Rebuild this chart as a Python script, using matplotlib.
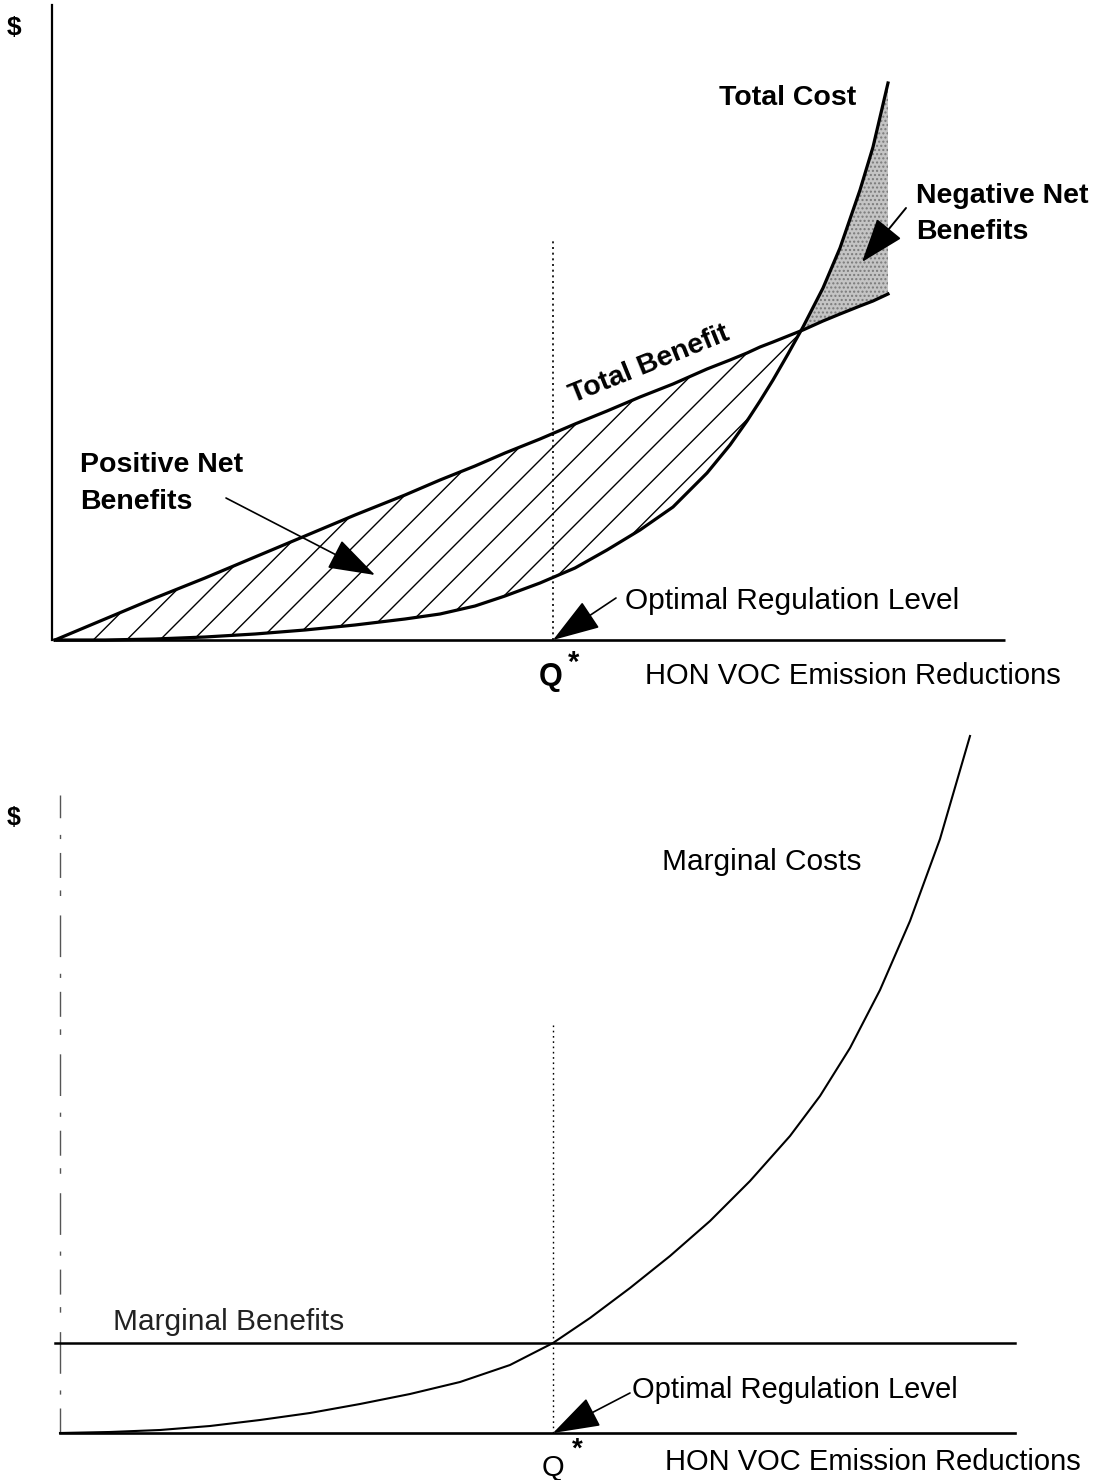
import matplotlib
matplotlib.use("Agg")
import matplotlib.pyplot as plt
import numpy as np

plt.rcParams['font.family'] = ['Liberation Sans', 'DejaVu Sans']
plt.rcParams['hatch.linewidth'] = 1.0

# ---------------- data ----------------
# Upper panel: total cost / total benefit versus emission reductions
q_top = [0, 0.5, 1.0, 1.5, 2.0, 2.5, 3.0, 3.5, 3.85, 4.2, 4.5, 4.85, 5.2,
         5.52, 5.85, 6.18, 6.52, 6.75, 6.92, 7.05, 7.18, 7.33, 7.48, 7.68,
         7.85, 8.05, 8.18, 8.33]
total_cost = [0, 0.00, 0.01, 0.03, 0.06, 0.10, 0.15, 0.21, 0.26, 0.34, 0.44,
              0.57, 0.72, 0.90, 1.10, 1.33, 1.67, 1.95, 2.19, 2.39, 2.60, 2.86,
              3.13, 3.52, 3.92, 4.50, 4.93, 5.57]
total_benefit = [0, 0.21, 0.42, 0.62, 0.83, 1.04, 1.25, 1.45, 1.60, 1.74, 1.87,
                 2.01, 2.16, 2.29, 2.43, 2.56, 2.71, 2.80, 2.87, 2.93, 2.98,
                 3.04, 3.10, 3.19, 3.26, 3.34, 3.39, 3.46]
q_star_top = 4.98
top_x_axis = [0, 9.50]
top_y_axis = [0, 6.35]
top_qstar_guide = [0, 4.0]

# Lower panel: marginal cost / marginal benefit
q_bottom = [0, 0.5, 1.0, 1.5, 2.0, 2.5, 3.0, 3.5, 4.0, 4.5, 4.93, 5.3, 5.7,
            6.1, 6.5, 6.9, 7.3, 7.6, 7.9, 8.2, 8.5, 8.8, 9.1]
marginal_cost = [0, 0.01, 0.03, 0.07, 0.13, 0.20, 0.29, 0.39, 0.51, 0.68,
                 0.90, 1.15, 1.45, 1.77, 2.12, 2.52, 2.97, 3.37, 3.85, 4.43,
                 5.12, 5.94, 6.97]
q_mb = [-0.05, 9.55]
marginal_benefit = [0.90, 0.90]
q_star_bottom = 4.93
bot_x_axis = [0, 9.55]
bot_y_axis = [0, 6.38]
bot_qstar_guide = [0, 4.08]

# ---------------- figure ----------------
W, H = 1110, 1480
fig = plt.figure(figsize=(W / 100, H / 100), dpi=100)


def P(px, py):
    return (px / W, 1 - py / H)


# ---------- upper panel ----------
ax1 = fig.add_axes([0, 780 / H, 1, 700 / H])
ax1.set_xlim(-0.55, 10.55)
ax1.set_ylim(-0.60, 6.40)
ax1.axis('off')

qt = np.array(q_top)
tc = np.array(total_cost)
tb = np.array(total_benefit)

ax1.fill_between(qt, tc, tb, where=tb >= tc, interpolate=True,
                 facecolor='none', edgecolor='black', hatch='/', linewidth=0,
                 zorder=1)
ax1.fill_between(qt, tb, tc, where=tc >= tb, interpolate=True,
                 facecolor='#c4c4c4', edgecolor='#7a7a7a', hatch='....',
                 linewidth=0, zorder=1)

ax1.plot(top_x_axis, [0, 0], color='black', lw=1.9, zorder=3,
         solid_capstyle='butt')
ax1.plot([-0.03, -0.03], top_y_axis, color='black', lw=1.6, zorder=3)
ax1.plot(qt, tc, color='black', lw=2.3, zorder=4)
ax1.plot(qt, tb, color='black', lw=2.3, zorder=4)
ax1.plot([q_star_top, q_star_top], top_qstar_guide, color='black', lw=1.2,
         linestyle=(0, (1.2, 2.2)), zorder=2)

arrow_big = dict(arrowstyle='-|>,head_length=1.5,head_width=0.5',
                 mutation_scale=20, lw=1.2, color='black', shrinkA=0, shrinkB=0)

# Optimal regulation level arrow (top)
ax1.annotate('', xy=(q_star_top, 0), xytext=P(616, 598),
             textcoords='figure fraction', arrowprops=arrow_big, zorder=5)
# Positive net benefits arrow
ax1.annotate('', xy=P(375, 575), xycoords='figure fraction',
             xytext=P(226, 498), textcoords='figure fraction',
             arrowprops=arrow_big, zorder=5)
# Negative net benefits arrow
ax1.annotate('', xy=P(862, 262), xycoords='figure fraction',
             xytext=P(906, 208), textcoords='figure fraction',
             arrowprops=dict(arrowstyle='-|>,head_length=1.4,head_width=0.5',
                             mutation_scale=20, lw=1.4, color='black',
                             shrinkA=0, shrinkB=0), zorder=5)

fs = 20.5
fig.text(*P(14, 28), '$', fontsize=19, fontweight='bold', ha='center', va='center')
fig.text(*P(719, 98), 'Total Cost', fontsize=fs, fontweight='bold', ha='left', va='center')
fig.text(*P(916, 196), 'Negative Net', fontsize=fs, fontweight='bold', ha='left', va='center')
fig.text(*P(916, 232), 'Benefits', fontsize=fs, fontweight='bold', ha='left', va='center')
fig.text(*P(80, 465), 'Positive Net', fontsize=fs, fontweight='bold', ha='left', va='center')
fig.text(*P(80, 502), 'Benefits', fontsize=fs, fontweight='bold', ha='left', va='center')
fig.text(*P(649, 365), 'Total Benefit', fontsize=fs, fontweight='bold', ha='center',
         va='center', rotation=22, rotation_mode='anchor')
fig.text(*P(625, 601), 'Optimal Regulation Level', fontsize=21.5, ha='left', va='center')
fig.text(*P(551, 677), 'Q', fontsize=22, fontweight='bold', ha='center', va='center')
fig.text(*P(574, 663), '*', fontsize=21, fontweight='bold', ha='center', va='center')
fig.text(*P(645, 676), 'HON VOC Emission Reductions', fontsize=21, ha='left', va='center')

# ---------- lower panel ----------
ax2 = fig.add_axes([0, 0, 1, 780 / H])
ax2.set_xlim(-0.60, 10.50)
ax2.set_ylim(-0.47, 7.33)
ax2.axis('off')

ax2.plot(bot_x_axis, [0, 0], color='black', lw=1.9, zorder=3)
ax2.plot([0, 0], bot_y_axis, color='#555555', lw=1.0,
         linestyle=(0, (18, 10, 3, 12, 30, 14, 4, 9)), zorder=3)
ax2.plot(q_mb, marginal_benefit, color='black', lw=1.8, zorder=3)
ax2.plot(q_bottom, marginal_cost, color='black', lw=1.5, zorder=4)
ax2.plot([q_star_bottom, q_star_bottom], bot_qstar_guide, color='black', lw=1.0,
         linestyle=(0, (1.2, 2.6)), zorder=2)

ax2.annotate('', xy=(q_star_bottom, 0), xytext=P(630, 1393),
             textcoords='figure fraction', arrowprops=arrow_big, zorder=5)

fs2 = 21.5
fig.text(*P(14, 818), '$', fontsize=18, fontweight='bold', ha='center', va='center')
fig.text(*P(662, 862), 'Marginal Costs', fontsize=fs2, ha='left', va='center')
fig.text(*P(113, 1322), 'Marginal Benefits', fontsize=fs2, ha='left', va='center',
         color='#222222')
fig.text(*P(632, 1390), 'Optimal Regulation Level', fontsize=21, ha='left', va='center')
fig.text(*P(553, 1468), 'Q', fontsize=21, ha='center', va='center')
fig.text(*P(577, 1450), '*', fontsize=20, fontweight='bold', ha='center', va='center')
fig.text(*P(665, 1462), 'HON VOC Emission Reductions', fontsize=21, ha='left', va='center')

fig.savefig('out.png', dpi=100, facecolor='white')
